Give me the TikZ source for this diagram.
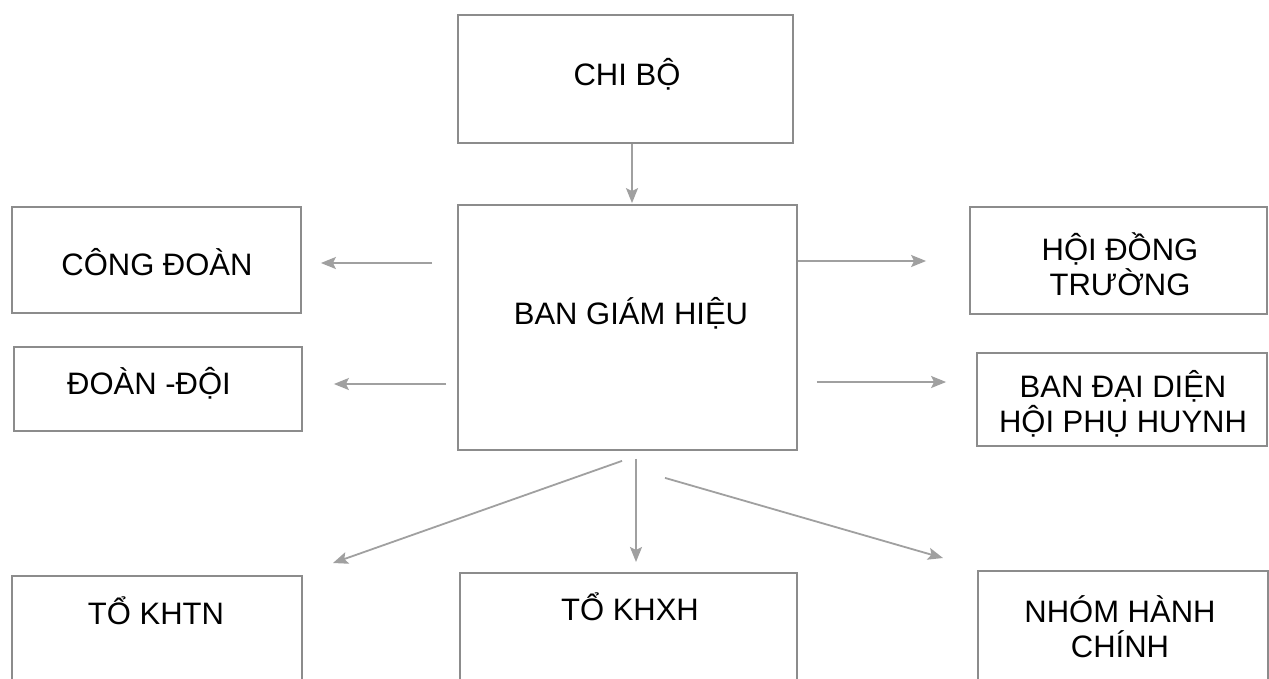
\documentclass[tikz,border=0pt]{standalone}
\usepackage{fontspec}
\setmainfont{Liberation Sans}
\usetikzlibrary{arrows.meta,calc}
\definecolor{boxgray}{HTML}{8C8C8C}
\definecolor{arrgray}{HTML}{A0A0A0}
\begin{document}
\begin{tikzpicture}[x=1pt,y=-1pt,
  box/.style={draw=boxgray,line width=1.8pt,rectangle,inner sep=0pt},
  lbl/.style={align=center,font=\fontsize{31}{35}\selectfont,text=black,inner sep=0pt},
  arr/.style={draw=arrgray,line width=1.8pt,-{Stealth[length=15pt,width=12pt,inset=3pt]}}]
\useasboundingbox (0,0) rectangle (1269,678);
\clip (0,0) rectangle (1269,678);
\fill[white] (0,0) rectangle (1269,678);
% boxes
\node[box,minimum width=335pt,minimum height=128pt] (chibo) at (625.5,79) {};
\node[lbl] (chibot) at (627,74) {CHI BỘ};
\node[box,minimum width=339pt,minimum height=245pt] (ban) at (627.5,327.5) {};
\node[lbl] (bant) at (631,313) {BAN GIÁM HIỆU};
\node[box,minimum width=289pt,minimum height=106pt] (cong) at (156.5,260) {};
\node[lbl] (congt) at (157,262) {CÔNG ĐOÀN};
\node[box,minimum width=288pt,minimum height=84pt] (doan) at (158,389) {};
\node[lbl] (doant) at (149,383) {ĐOÀN -ĐỘI};
\node[box,minimum width=297pt,minimum height=107pt] (hoi) at (1118.5,260.5) {};
\node[lbl] (hoit) at (1120,264) {HỘI ĐỒNG\\TRƯỜNG};
\node[box,minimum width=290pt,minimum height=93pt] (bdd) at (1122,399.5) {};
\node[lbl] (bddt) at (1123,404) {BAN ĐẠI DIỆN\\HỘI PHỤ HUYNH};
\node[box,minimum width=290pt,minimum height=160pt,anchor=north] (khtn) at (157,575) {};
\node[lbl] (khtnt) at (156,611) {TỔ KHTN};
\node[box,minimum width=337pt,minimum height=160pt,anchor=north] (khxh) at (628.5,572) {};
\node[lbl] (khxht) at (630,607) {TỔ KHXH};
\node[box,minimum width=290pt,minimum height=160pt,anchor=north] (nhom) at (1123,570) {};
\node[lbl] (nhomt) at (1120,627) {NHÓM HÀNH\\CHÍNH};
% arrows
\draw[arr] ([xshift=6.5pt]chibo.south) -- ([xshift=4.5pt,yshift=1pt]ban.north);
\draw[arr,shorten <=25pt,shorten >=19pt] ([yshift=64.5pt]ban.west) -- ([yshift=64.5pt]ban.west -| cong.east);
\draw[arr,shorten <=11pt,shorten >=31pt] ([yshift=-56.5pt]ban.west) -- ([yshift=-56.5pt]ban.west -| doan.east);
\draw[arr,shorten >=43pt] ([yshift=66.5pt]ban.east) -- ([yshift=66.5pt]ban.east -| hoi.west);
\draw[arr,shorten <=19pt,shorten >=30pt] ([yshift=-54.5pt]ban.east) -- ([yshift=-54.5pt]ban.east -| bdd.west);
\draw[arr] ([xshift=-5.5pt,yshift=-10pt]ban.south) -- ([xshift=176pt,yshift=12pt]khtn.north);
\draw[arr] ([xshift=8.5pt,yshift=-8pt]ban.south) -- ([xshift=7.5pt,yshift=10pt]khxh.north);
\draw[arr] ([xshift=37.5pt,yshift=-27pt]ban.south) -- ([xshift=-180pt,yshift=12pt]nhom.north);
\end{tikzpicture}
\end{document}
